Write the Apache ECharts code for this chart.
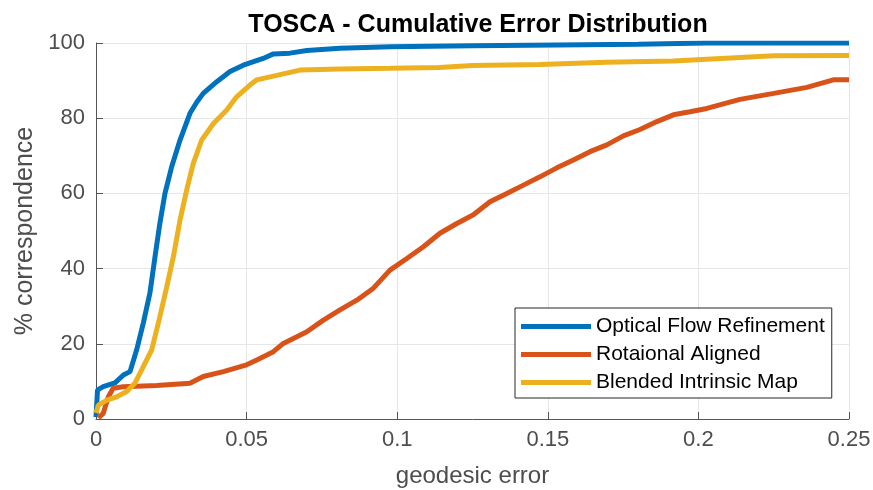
<!DOCTYPE html>
<html lang="en">
  <head>
    <meta charset="UTF-8" />
    <script src="https://cdn.jsdelivr.net/npm/echarts@6/dist/echarts.min.js"></script>
    <title>TOSCA</title>
    <style>
      body { margin: 0; background: #fff; }
    </style>
  </head>
  <body>
    <div id="main" style="width: 873px; height: 490px"></div>
    <script>
      // series names
      const names = ["Optical Flow Refinement", "Rotaional Aligned", "Blended Intrinsic Map"];

      // Optical Flow Refinement
      const flowX = [0, 0.0005, 0.0024, 0.0063, 0.0091, 0.0113, 0.0135, 0.0157, 0.0179, 0.0196, 0.0212, 0.0229, 0.0251, 0.0279, 0.0312, 0.0335, 0.0356, 0.0401, 0.0445, 0.0489, 0.0555, 0.0589, 0.0644, 0.070, 0.081, 0.0976, 0.125, 0.153, 0.18, 0.2025, 0.25];
      const flowY = [0.5, 7.7, 8.6, 9.6, 11.7, 12.6, 18.4, 25.5, 33.5, 43.2, 52, 60, 67, 74.2, 81.3, 84.3, 86.6, 89.7, 92.4, 94.1, 95.9, 97.1, 97.3, 98, 98.6, 99, 99.3, 99.5, 99.7, 100, 100];

      // Rotaional Aligned
      const rotX = [0.0008, 0.0024, 0.0041, 0.0057, 0.009, 0.0201, 0.0312, 0.0356, 0.0423, 0.05, 0.0534, 0.0589, 0.0622, 0.070, 0.0755, 0.081, 0.0866, 0.0921, 0.0976, 0.1032, 0.1087, 0.1142, 0.1198, 0.1253, 0.1308, 0.1364, 0.1419, 0.1474, 0.153, 0.1585, 0.164, 0.1696, 0.1751, 0.1806, 0.1862, 0.1917, 0.1972, 0.2028, 0.2083, 0.2138, 0.225, 0.236, 0.2448, 0.25];
      const rotY = [0.3, 1.5, 5.9, 8.2, 8.6, 8.9, 9.5, 11.3, 12.6, 14.4, 15.7, 17.9, 20.1, 23.2, 26.3, 29, 31.6, 34.8, 39.6, 42.7, 45.8, 49.4, 52, 54.3, 57.8, 60, 62.2, 64.4, 66.8, 68.9, 71.1, 72.9, 75.3, 77, 79.1, 80.9, 81.7, 82.6, 83.8, 85, 86.6, 88.2, 90.2, 90.2];

      // Blended Intrinsic Map
      const bimX = [0, 0.0008, 0.0036, 0.0069, 0.0102, 0.0129, 0.0157, 0.0185, 0.0212, 0.0235, 0.0257, 0.0279, 0.0301, 0.0323, 0.0351, 0.039, 0.0434, 0.0467, 0.0511, 0.0534, 0.0578, 0.0644, 0.0677, 0.081, 0.0976, 0.114, 0.125, 0.1474, 0.1696, 0.1917, 0.2028, 0.225, 0.25];
      const bimY = [1.6, 3.7, 5, 5.9, 7.3, 9.5, 13.9, 18.4, 27.2, 35.2, 43.2, 52.9, 60.9, 68, 74.2, 78.6, 82.2, 85.7, 88.8, 90.2, 91, 92.2, 92.8, 93.1, 93.3, 93.5, 94, 94.3, 94.9, 95.2, 95.7, 96.6, 96.7];

      const colors = ["#0072BD", "#D95319", "#EDB120"];
      const xsList = [flowX, rotX, bimX];
      const ysList = [flowY, rotY, bimY];

      const font = "Liberation Sans, Arial, Helvetica, sans-serif";
      const gray = "#4d4d4d";

      const series = names.map((name, i) => ({
        name: name,
        type: "line",
        showSymbol: false,
        symbol: "none",
        lineStyle: { width: 5, color: colors[i] },
        itemStyle: { color: colors[i] },
        data: xsList[i].map((x, j) => [x, ysList[i][j]]),
      }));

      const chart = echarts.init(document.getElementById("main"));
      chart.setOption({
        animation: false,
        textStyle: { fontFamily: font },
        title: {
          text: "TOSCA - Cumulative Error Distribution",
          left: 473,
          textAlign: "center",
          top: 8,
          textStyle: { fontSize: 25, fontWeight: "bold", color: "#000", fontFamily: font },
        },
        grid: { left: 96, right: 24, top: 43, bottom: 71, containLabel: false, outerBoundsMode: "none" },
        legend: {
          orient: "vertical",
          left: 515,
          top: 308,
          padding: [8, 7, 5, 6],
          borderColor: "#262626",
          borderWidth: 1,
          backgroundColor: "#fff",
          icon: "rect",
          itemWidth: 70,
          itemHeight: 5,
          itemGap: 7,
          data: names,
          textStyle: { fontSize: 21, color: "#000", lineHeight: 21, fontFamily: font },
        },
        xAxis: {
          type: "value",
          min: 0,
          max: 0.25,
          interval: 0.05,
          name: "geodesic error",
          nameLocation: "middle",
          nameGap: 45,
          nameTextStyle: { fontSize: 24, color: gray, fontFamily: font },
          axisLine: { show: true, lineStyle: { color: "#555", width: 1 } },
          axisTick: { show: true, inside: true, length: 7, lineStyle: { color: "#555" } },
          axisLabel: { fontSize: 22, color: gray, margin: 10 },
          splitLine: { show: true, lineStyle: { color: "#e6e6e6" } },
        },
        yAxis: {
          type: "value",
          min: 0,
          max: 100,
          interval: 20,
          name: "% correspondence",
          nameLocation: "middle",
          nameGap: 57,
          nameTextStyle: { fontSize: 25, color: gray, fontFamily: font },
          axisLine: { show: true, lineStyle: { color: "#555", width: 1 } },
          axisTick: { show: true, inside: true, length: 7, lineStyle: { color: "#555" } },
          axisLabel: { fontSize: 22, color: gray, margin: 11 },
          splitLine: { show: true, lineStyle: { color: "#e6e6e6" } },
        },
        series: series,
      });
    </script>
  </body>
</html>
